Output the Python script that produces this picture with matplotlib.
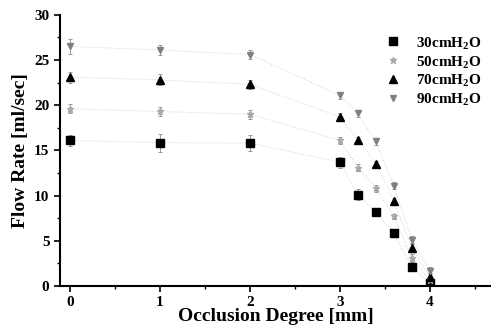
import matplotlib
matplotlib.use("Agg")
import matplotlib.pyplot as plt
from matplotlib.ticker import MultipleLocator

# occlusion degree [mm]
degree = [0, 1, 2, 3, 3.2, 3.4, 3.6, 3.8, 4]

# flow rate [ml/sec] for each pressure
flow_30 = [16.1, 15.85, 15.8, 13.7, 10.1, 8.2, 5.8, 2.1, 0.3]
flow_50 = [19.6, 19.3, 19.0, 16.1, 13.1, 10.8, 7.7, 3.1, 0.6]
flow_70 = [23.1, 22.8, 22.3, 18.7, 16.2, 13.5, 9.4, 4.2, 1.0]
flow_90 = [26.5, 26.1, 25.6, 21.1, 19.1, 16.0, 11.1, 5.1, 1.7]

err_30 = [0.6, 1.0, 0.9, 0.6, 0.6, 0.4, 0.4, 0.4, 0.3]
err_50 = [0.5, 0.5, 0.5, 0.4, 0.4, 0.4, 0.3, 0.4, 0.3]
err_70 = [0.6, 0.6, 0.5, 0.4, 0.3, 0.3, 0.3, 0.4, 0.4]
err_90 = [0.8, 0.6, 0.5, 0.4, 0.4, 0.4, 0.4, 0.4, 0.4]

labels = ["30cmH$_2$O", "50cmH$_2$O", "70cmH$_2$O", "90cmH$_2$O"]

plt.rcParams["font.family"] = ["Liberation Serif", "DejaVu Serif"]
plt.rcParams["font.weight"] = "bold"
plt.rcParams["mathtext.fontset"] = "custom"
plt.rcParams["mathtext.rm"] = "Liberation Serif:bold"

fig = plt.figure(figsize=(4.91, 3.29), dpi=100)
ax = fig.add_axes([0.122, 0.131, 0.878, 0.824])

series = [
    (flow_30, err_30, "s", "black", 5.5),
    (flow_50, err_50, "*", "#a8a8a8", 4.5),
    (flow_70, err_70, "^", "black", 6),
    (flow_90, err_90, "v", "#808080", 4.5),
]
handles = []
for (y, e, m, c, ms), lab in zip(series, labels):
    ax.plot(degree, y, linestyle=":", color="#d0d0d0", linewidth=0.7, zorder=1)
    ax.errorbar(degree, y, yerr=e, fmt="none", ecolor="#8a8a8a",
                elinewidth=0.6, capsize=1.2, capthick=0.6, zorder=2)
    h, = ax.plot(degree, y, linestyle="none", marker=m, color=c, ms=ms, label=lab, zorder=3)
    handles.append(h)

ax.set_xlim(-0.11, 4.68)
ax.set_ylim(0, 30)
ax.xaxis.set_major_locator(MultipleLocator(1))
ax.xaxis.set_minor_locator(MultipleLocator(0.5))
ax.yaxis.set_major_locator(MultipleLocator(5))
ax.yaxis.set_minor_locator(MultipleLocator(2.5))
ax.tick_params(direction="out", labelsize=11, width=1.2, length=4)
ax.tick_params(which="minor", direction="out", width=1, length=2.5)
ax.spines["top"].set_visible(False)
ax.spines["right"].set_visible(False)
ax.spines["left"].set_linewidth(1.5)
ax.spines["bottom"].set_linewidth(1.5)

ax.set_xlabel("Occlusion Degree [mm]", fontsize=14, fontweight="bold", labelpad=-1)
ax.set_ylabel("Flow Rate [ml/sec]", fontsize=14, fontweight="bold", labelpad=4)

ax.legend(handles=handles, loc="upper right", bbox_to_anchor=(1.0, 0.96), frameon=False,
          fontsize=11, handletextpad=0.9, handlelength=1.2, labelspacing=0.15,
          borderaxespad=0.2)

fig.savefig("out.png", dpi=100)
